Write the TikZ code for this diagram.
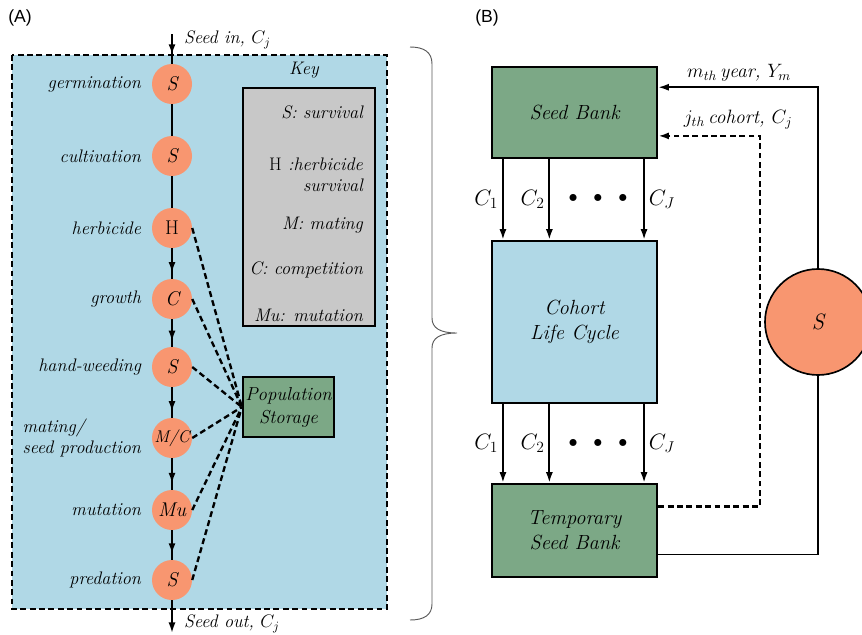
\RequirePackage{fix-cm}
\documentclass[tikz,border=0pt]{standalone}
\usepackage{fontspec}
\newfontfamily\panelfont{Liberation Sans}
\usetikzlibrary{arrows.meta,calc,positioning,decorations.markings}

\definecolor{bankgreen}{RGB}{124,168,134}
\definecolor{cycleblue}{RGB}{176,216,230}
\definecolor{stepsalmon}{RGB}{248,150,112}
\definecolor{keygray}{RGB}{200,200,200}

\begin{document}
\begin{tikzpicture}[
    x=0.03cm, y=-0.03cm,
    >={Latex[length=9pt,width=6pt]},
    font=\fontsize{15.5}{17.5}\selectfont\itshape,
    arr/.style={->, line width=1.6pt},
    flow/.style={line width=1.6pt, postaction={decorate},
                 decoration={markings, mark=at position #1 with {\arrow{Latex[length=9pt,width=6pt]}}}},
    flow/.default=0.8,
    dlink/.style={line width=2pt, dash pattern=on 5pt off 3pt},
    stepc/.style={circle, fill=stepsalmon, minimum size=1.2cm, inner sep=0pt,
                  font=\fontsize{17}{19}\selectfont\itshape},
    steplbl/.style={left=0.2cm of #1},
    keybox/.style={draw, fill=keygray, line width=2pt, minimum width=3.96cm, minimum height=7.14cm},
    keyitem/.style={anchor=east, align=right},
    store/.style={draw, fill=bankgreen, line width=2pt, align=center,
                  minimum width=2.73cm, minimum height=1.8cm, inner sep=1pt,
                  font=\fontsize{16}{19.5}\selectfont\itshape},
    bank/.style={draw, fill=bankgreen, line width=2.2pt, align=center,
                 minimum width=4.95cm, minimum height=2.73cm,
                 font=\fontsize{17.5}{21}\selectfont\itshape},
    lifecycle/.style={bank, fill=cycleblue, minimum height=4.86cm},
    cohlbl/.style={font=\fontsize{19}{21}\selectfont},
    panel/.style={font=\fontsize{15}{17}\selectfont\panelfont}
]
\useasboundingbox (0,0) rectangle (862,634);
\clip (0,0) rectangle (862,634);

% ===== (A) one cohort through the season =====
\node[panel] (labA) at (20,18) {(A)};
\draw[dlink, fill=cycleblue, line width=2.2pt] (12,55) rectangle (387,609);

\node[stepc] (germ) at (172,84)  {S};
\node[stepc] (cult) at (172,156) {S};
\node[stepc] (herb) at (172,228) {\upshape H};
\node[stepc] (grow) at (172,299) {C};
\node[stepc] (hand) at (172,367) {S};
\node[stepc] (mate) at (172,438) {\fontsize{14.5}{16}\selectfont M/C};
\node[stepc] (mut)  at (172,510) {Mu};
\node[stepc] (pred) at (172,580) {S};

\node[steplbl=germ] {germination};
\node[steplbl=cult] {cultivation};
\node[steplbl=herb] {herbicide};
\node[steplbl=grow] {growth};
\node[steplbl=hand] {hand-weeding};
\node[steplbl=mate, align=left] {mating/\\seed production};
\node[steplbl=mut]  {mutation};
\node[steplbl=pred] {predation};

\coordinate (seedin)  at (172,34);
\coordinate (seedout) at (172,633);
\draw[flow=0.7] (seedin) -- (germ);
\node[anchor=west] (inlbl) at (180,40) {Seed in, $C_j$};
\draw[line width=1.6pt] (germ) -- (cult);
\draw[line width=1.6pt] (cult) -- (herb);
\draw[flow] (herb) -- (grow);
\draw[flow] (grow) -- (hand);
\draw[flow] (hand) -- (mate);
\draw[flow] (mate) -- (mut);
\draw[flow] (mut) -- (pred);
\draw[arr] (pred) -- (seedout);
\node[anchor=west] (outlbl) at (180,624) {Seed out, $C_j$};

% key
\node (keytitle) at (304,70) {Key};
\node[keybox] (key) at (309,207) {};
\node[keyitem] (keyS)  at (367,112) {S: survival};
\node[keyitem] (keyH)  at (367,175) {{\upshape H} :herbicide\\survival};
\node[keyitem] (keyM)  at (367,225) {M: mating};
\node[keyitem] (keyC)  at (367,270) {C: competition};
\node[keyitem] (keyMu) at (367,315) {Mu: mutation};

% storage and its links
\node[store] (pop) at (288.5,407) {Population\\Storage};
\foreach \n in {herb,grow,hand,mate,mut,pred}
  \draw[dlink] (\n.east) -- (pop.west);

% brace
\draw[gray!70!black, line width=0.8pt]
  (410,47) .. controls (424,47) and (432,52) .. (432,64) -- (432,318)
  .. controls (432,328) and (440,333) .. (457,333)
  .. controls (440,333) and (432,338) .. (432,348) -- (432,604)
  .. controls (432,615) and (424,620) .. (410,620);

% ===== (B) yearly loop =====
\node[panel] (labB) at (487,18) {(B)};
\node[bank] (sbank) at (574.5,112.5) {Seed Bank};
\node[lifecycle] (cohort) at (574.5,322) {Cohort\\Life Cycle};
\node[bank, minimum height=2.79cm] (tbank) at (574.5,530.5) {Temporary\\Seed Bank};
\node[circle, draw, fill=stepsalmon, line width=1.4pt, minimum size=3.18cm,
      font=\fontsize{19}{21}\selectfont\itshape] (surv) at (818,322) {S};

\foreach \f/\side/\lab in {0.073/left/C_1, 0.35/left/C_2, 0.915/right/C_J} {
  \draw[arr] ($(sbank.south west)!\f!(sbank.south east)$) -- node[\side, cohlbl] {$\lab$}
             ($(cohort.north west)!\f!(cohort.north east)$);
  \draw[arr] ($(cohort.south west)!\f!(cohort.south east)$) -- node[\side, cohlbl] {$\lab$}
             ($(tbank.north west)!\f!(tbank.north east)$);
}
\node (dotsA) at (598,198) {$\bullet\hspace{10pt}\bullet\hspace{10pt}\bullet$};
\node (dotsB) at (598,443) {$\bullet\hspace{10pt}\bullet\hspace{10pt}\bullet$};

% survivors back to the seed bank
\coordinate (tbankY) at ($(tbank.north east)!0.75!(tbank.south east)$);
\coordinate (sbankY) at ($(sbank.north east)!0.23!(sbank.south east)$);
\draw[line width=1.4pt] (tbankY) -| (surv.south);
\draw[->, line width=1.4pt] (surv.north) |- (sbankY);
\node[font=\fontsize{16.5}{18}\selectfont\itshape] (yearlbl) at (739,73) {$m_{th}$\,year, $Y_m$};

% cohort hand-over
\coordinate (jx) at (760,0);
\coordinate (tbankJ) at ($(tbank.north east)!0.25!(tbank.south east)$);
\coordinate (sbankJ) at ($(sbank.north east)!0.75!(sbank.south east)$);
\draw[dlink, ->] (tbankJ) -- (tbankJ -| jx) -- (sbankJ -| jx) -- (sbankJ);
\node[font=\fontsize{16.5}{18}\selectfont\itshape] (cohortlbl) at (738,120) {$j_{th}$\,cohort, $C_j$};

\end{tikzpicture}
\end{document}
